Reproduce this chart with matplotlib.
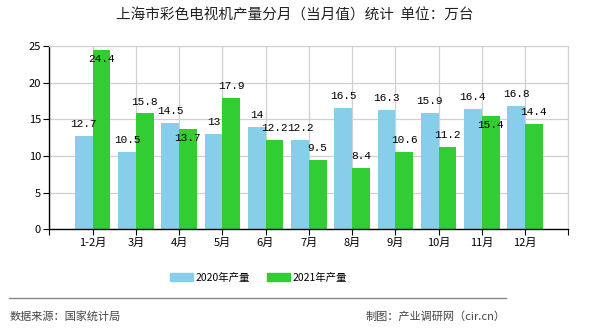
import matplotlib
matplotlib.use("Agg")
import matplotlib.pyplot as plt
from matplotlib.patches import Patch
import numpy as np

plt.rcParams['font.family'] = ['Noto Sans CJK SC', 'DejaVu Sans']

# data
months = ['1-2月', '3月', '4月', '5月', '6月', '7月', '8月', '9月', '10月', '11月', '12月']
output_2020 = [12.7, 10.5, 14.5, 13, 14, 12.2, 16.5, 16.3, 15.9, 16.4, 16.8]
output_2021 = [24.4, 15.8, 13.7, 17.9, 12.2, 9.5, 8.4, 10.6, 11.2, 15.4, 14.4]
series_names = ['2020年产量', '2021年产量']

blue = '#87ceeb'
green = '#32cd32'

fig = plt.figure(figsize=(5.9, 3.3), dpi=100)
ax = fig.add_axes([0.0836, 0.3052, 0.8796, 0.5554])

x = np.arange(1, len(months) + 1)
w = 0.41
ax.bar(x - w / 2, output_2020, width=w, color=blue, zorder=2)
ax.bar(x + w / 2, output_2021, width=w, color=green, zorder=2)


def fmt(v):
    return ('%g' % v)


# value labels (green goes below its top when it would collide)
for xi, a, b in zip(x, output_2020, output_2021):
    ax.annotate(fmt(a), (xi - w / 2, a), xytext=(0, 8.6), textcoords='offset points',
                ha='center', va='center', fontsize=8, family='Liberation Mono', zorder=3)
    below = b > 23.5 or (a > b and a - b < 1.5)
    dy = -6.5 if below else 8.6
    ax.annotate(fmt(b), (xi + w / 2, b), xytext=(0, dy), textcoords='offset points',
                ha='center', va='center', fontsize=8, family='Liberation Mono', zorder=3)

ax.set_xlim(0, 12)
ax.set_ylim(0, 25)
ax.set_yticks(range(0, 26, 5))
ax.set_xticks(range(0, 13))
ax.set_xticklabels([''] + months + [''])
ax.tick_params(axis='x', length=4, labelsize=8, pad=2)
ax.tick_params(axis='y', length=4, labelsize=8, pad=2)
ax.grid(True, color='#d0d0d0', linewidth=0.9, zorder=0)
ax.set_axisbelow(True)
for s in ['top', 'right']:
    ax.spines[s].set_color('#d0d0d0')
for s in ['left', 'bottom']:
    ax.spines[s].set_color('black')
    ax.spines[s].set_linewidth(1)

fig.text(0.5, 0.952, '上海市彩色电视机产量分月（当月值）统计  单位：万台',
         ha='center', va='center', fontsize=10.5, color='#222222')

handles = [Patch(color=blue), Patch(color=green)]
fig.legend(handles, series_names, loc='center', bbox_to_anchor=(0.438, 0.158),
           ncol=2, frameon=False, fontsize=7.5, handlelength=2.2, handleheight=0.8,
           columnspacing=1.6, handletextpad=0.3)

fig.add_artist(plt.Line2D([0.0157, 0.857], [0.097, 0.097], color='#888888', linewidth=1))
fig.text(0.017, 0.04, '数据来源：国家统计局', ha='left', va='center', fontsize=8, color='#444444')
fig.text(0.857, 0.04, '制图：产业调研网（cir.cn）', ha='right', va='center', fontsize=8, color='#444444')

fig.savefig('out.png', dpi=100)
